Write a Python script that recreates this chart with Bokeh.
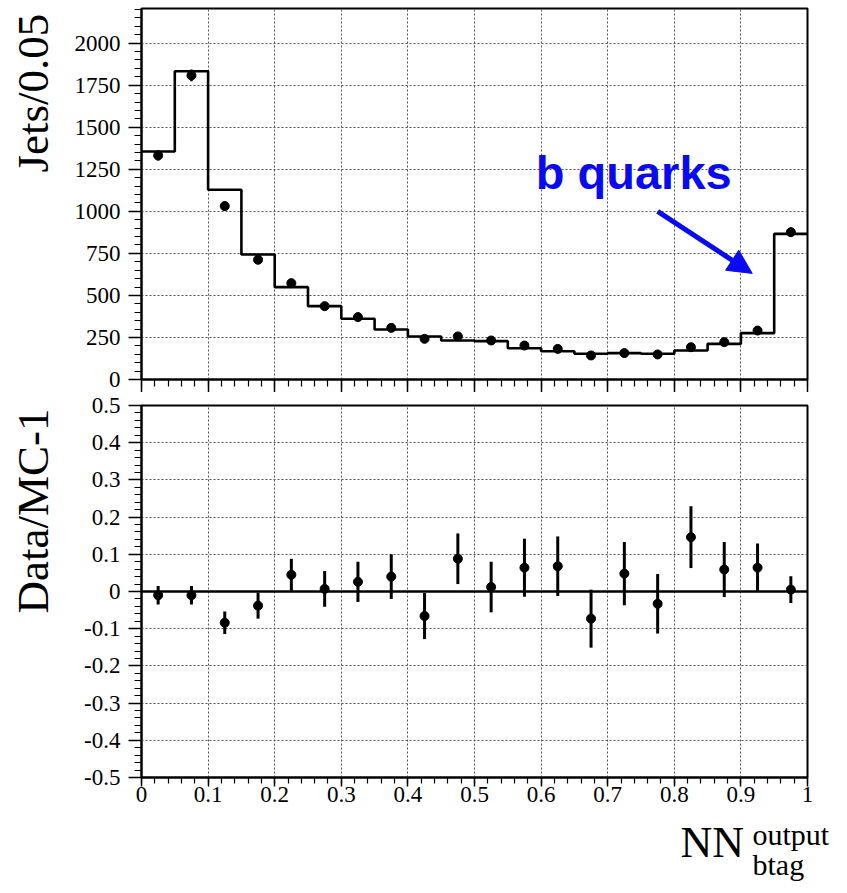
import numpy as np
from bokeh.plotting import figure
from bokeh.layouts import column, row
from bokeh.models import (Range1d, FixedTicker, Label, Arrow, NormalHead, Span,
                          CustomJSTickFormatter, CustomLabelingPolicy)
from bokeh.embed import file_html
from bokeh.resources import INLINE

# ---------------- data ----------------
bin_edges = [0.00, 0.05, 0.10, 0.15, 0.20, 0.25, 0.30, 0.35, 0.40, 0.45, 0.50,
             0.55, 0.60, 0.65, 0.70, 0.75, 0.80, 0.85, 0.90, 0.95, 1.00]
mc_counts = [1356, 1833, 1128, 743, 549, 436, 361, 297, 256, 232,
             228, 186, 168, 153, 157, 153, 172, 212, 276, 866]
data_counts = [1332, 1808, 1031, 712, 573, 436, 371, 307, 242, 256,
               232, 202, 182, 143, 157, 149, 192, 222, 291, 876]
data_errors = [30, 35, 28, 24, 21, 19, 17, 16, 14, 15,
               14, 13, 12, 11, 12, 11, 13, 14, 16, 27]
ratio_values = [-0.010, -0.010, -0.084, -0.038, 0.045, 0.007, 0.026, 0.040, -0.066, 0.088,
                0.012, 0.064, 0.068, -0.073, 0.048, -0.033, 0.146, 0.059, 0.064, 0.005]
ratio_errors = [0.025, 0.025, 0.030, 0.035, 0.043, 0.048, 0.054, 0.060, 0.062, 0.068,
                0.068, 0.078, 0.080, 0.078, 0.085, 0.080, 0.083, 0.074, 0.065, 0.036]

top_y_ticks = [0, 250, 500, 750, 1000, 1250, 1500, 1750, 2000]
ratio_y_ticks = [-0.5, -0.4, -0.3, -0.2, -0.1, 0.0, 0.1, 0.2, 0.3, 0.4, 0.5]
x_ticks = [0.0, 0.1, 0.2, 0.3, 0.4, 0.5, 0.6, 0.7, 0.8, 0.9, 1.0]

edges = np.array(bin_edges)
centers = 0.5 * (edges[:-1] + edges[1:])
dc = np.array(data_counts, dtype=float)
de = np.array(data_errors, dtype=float)
rv = np.array(ratio_values)
re_ = np.array(ratio_errors)

SERIF = "Liberation Serif"
BLUE = "#0a0af0"
W = 847
STRIP_W = 60
PW = W - STRIP_W

x_minor = list(np.round(np.arange(0, 1.0001, 0.02), 4))
top_minor = list(np.arange(0, 2201, 50))
ratio_minor = list(np.round(np.arange(-0.5, 0.5001, 0.02), 4))

fmt = CustomJSTickFormatter(code="""
    if (Math.abs(tick) < 1e-9) { return "0"; }
    const s = tick.toFixed(1);
    return s.replace(/\\.0$/, "");
""")


def style(p):
    p.outline_line_color = "black"
    p.outline_line_width = 2
    p.background_fill_color = "white"
    p.border_fill_color = "white"
    for g in (p.xgrid, p.ygrid):
        g.grid_line_color = "#555555"
        g.grid_line_dash = "2 2"
        g.grid_line_width = 1
    for ax in (p.xaxis, p.yaxis):
        ax.axis_line_width = 2
        ax.axis_line_color = "black"
        ax.major_tick_line_width = 1.5
        ax.minor_tick_line_width = 1.2
        ax.major_tick_in = 0
        ax.minor_tick_in = 0
        ax.major_label_text_font = SERIF
        ax.major_label_text_font_size = "23px"
        ax.major_label_text_color = "black"
    p.yaxis.major_tick_out = 13
    p.yaxis.minor_tick_out = 7
    p.yaxis.major_label_standoff = 8


def bare(p):
    p.grid.visible = False
    p.outline_line_color = None
    p.background_fill_color = "white"
    p.border_fill_color = "white"


# ---------------- top panel ----------------
top = figure(width=PW, height=392, output_backend="svg", toolbar_location=None,
             x_range=Range1d(0, 1), y_range=Range1d(0, 2206),
             min_border_left=141 - STRIP_W, min_border_right=40, min_border_top=8,
             min_border_bottom=13)
style(top)
top.xaxis.ticker = FixedTicker(ticks=x_ticks, minor_ticks=x_minor)
top.yaxis.ticker = FixedTicker(ticks=top_y_ticks, minor_ticks=top_minor)
top.xaxis.major_label_text_font_size = "0px"
top.xaxis.major_label_standoff = 0
top.xaxis.major_label_policy = CustomLabelingPolicy(code="return [];")
top.xaxis.major_tick_out = 13
top.xaxis.minor_tick_out = 7

top.step(x=list(edges), y=mc_counts + [mc_counts[-1]], mode="after",
         line_color="black", line_width=2.6)
top.segment(x0=centers, y0=dc - de, x1=centers, y1=dc + de, line_color="black", line_width=2.5)
top.scatter(x=centers, y=dc, size=9, marker="circle", fill_color="black", line_color="black")

top.add_layout(Label(x=0.592, y=1232, text="b quarks", text_font="Liberation Sans",
                     text_font_style="bold", text_font_size="47px", text_color=BLUE,
                     text_baseline="alphabetic"))
top.add_layout(Arrow(end=NormalHead(size=24, fill_color=BLUE, line_color=BLUE),
                     x_start=0.775, y_start=1000, x_end=0.917, y_end=631,
                     line_color=BLUE, line_width=5))

# ---------------- bottom panel ----------------
bot = figure(width=PW, height=425, output_backend="svg", toolbar_location=None,
             x_range=Range1d(0, 1), y_range=Range1d(-0.5, 0.5),
             min_border_left=141 - STRIP_W, min_border_right=40, min_border_top=13,
             min_border_bottom=40)
style(bot)
bot.xaxis.ticker = FixedTicker(ticks=x_ticks, minor_ticks=x_minor)
bot.yaxis.ticker = FixedTicker(ticks=ratio_y_ticks, minor_ticks=ratio_minor)
bot.xaxis.formatter = fmt
bot.yaxis.formatter = fmt
bot.xaxis.major_tick_out = 9
bot.xaxis.minor_tick_out = 6
bot.xaxis.major_label_standoff = 0

bot.add_layout(Span(location=0, dimension="width", line_color="black", line_width=2.5))
bot.segment(x0=centers, y0=rv - re_, x1=centers, y1=rv + re_, line_color="black", line_width=3)
bot.scatter(x=centers, y=rv, size=9, marker="circle", fill_color="black", line_color="black")

# ---------------- y-axis title strip ----------------
PH = 392 + 425
ylab = figure(width=STRIP_W, height=PH, output_backend="svg", toolbar_location=None,
              x_range=Range1d(0, STRIP_W), y_range=Range1d(0, PH),
              x_axis_location=None, y_axis_location=None,
              min_border_left=0, min_border_right=0, min_border_top=0, min_border_bottom=0)
bare(ylab)
ylab.add_layout(Label(x=32, y=PH - 172, text="Jets/0.05", angle=90, angle_units="deg",
                      text_font=SERIF, text_font_size="45px", text_color="black",
                      text_align="left", text_baseline="middle"))
ylab.add_layout(Label(x=32, y=PH - 613, text="Data/MC-1", angle=90, angle_units="deg",
                      text_font=SERIF, text_font_size="45px", text_color="black",
                      text_align="left", text_baseline="middle"))

# ---------------- x-axis title strip ----------------
lab = figure(width=W, height=76, output_backend="svg", toolbar_location=None,
             x_range=Range1d(0, W), y_range=Range1d(76, 0),
             x_axis_location=None, y_axis_location=None,
             min_border_left=0, min_border_right=0, min_border_top=0, min_border_bottom=0)
bare(lab)
lab.add_layout(Label(x=680, y=25, text="NN", text_font=SERIF, text_font_size="44px",
                     text_color="black", text_baseline="alphabetic"))
lab.add_layout(Label(x=752, y=17, text="output", text_font=SERIF, text_font_size="30px",
                     text_color="black", text_baseline="alphabetic"))
lab.add_layout(Label(x=752, y=47, text="btag", text_font=SERIF, text_font_size="30px",
                     text_color="black", text_baseline="alphabetic"))

layout = column(row(ylab, column(top, bot, spacing=0), spacing=0), lab, spacing=0)
open("out.html", "w").write(file_html(layout, INLINE))
